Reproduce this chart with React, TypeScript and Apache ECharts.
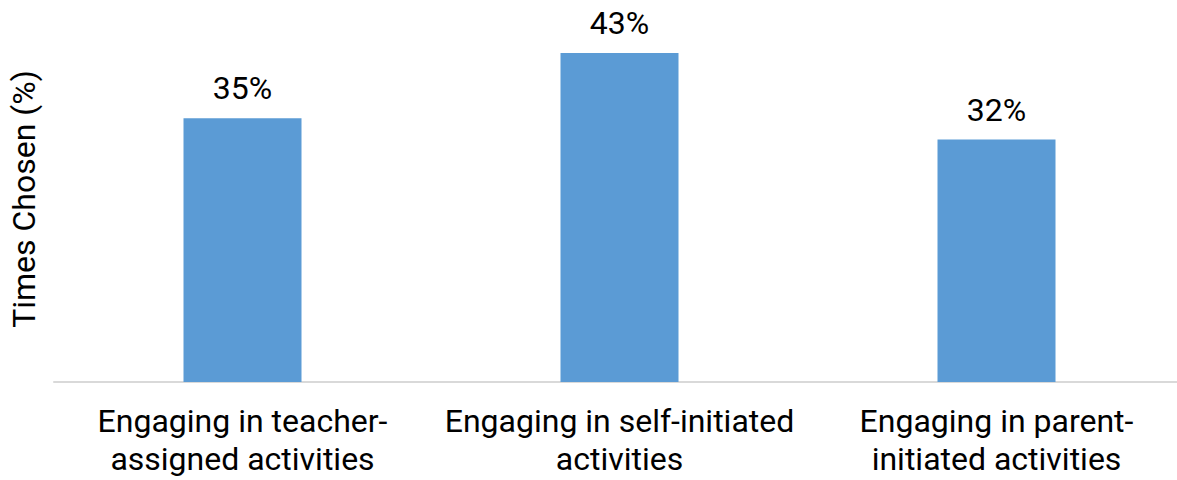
import React, { useEffect, useRef } from "react";
import * as echarts from "echarts";

const categories = [
  "Engaging in teacher-\nassigned activities",
  "Engaging in self-initiated\nactivities",
  "Engaging in parent-\ninitiated activities",
];
const timesChosen = [34.7, 43.3, 31.9];
const yAxisTitle = "Times Chosen (%)";

export default function App() {
  const ref = useRef<HTMLDivElement>(null);
  useEffect(() => {
    document.body.style.margin = "0";
    const chart = echarts.init(ref.current!, null, { renderer: "svg" });
    const font = "Roboto";
    chart.setOption({
      animation: false,
      grid: { left: 53, right: 5, top: 2, bottom: 98, containLabel: false },
      xAxis: {
        type: "category",
        data: categories,
        axisLine: { show: true, lineStyle: { color: "#d9d9d9", width: 2 } },
        axisTick: { show: false },
        axisLabel: {
          color: "#000",
          fontFamily: font,
          fontSize: 32,
          lineHeight: 38,
          margin: 20,
          interval: 0,
        },
      },
      yAxis: {
        type: "value",
        min: 0,
        max: 50,
        axisLine: { show: false },
        axisTick: { show: false },
        axisLabel: { show: false },
        splitLine: { show: false },
        name: yAxisTitle,
        nameLocation: "middle",
        nameGap: 14,
        nameTextStyle: {
          color: "#000",
          fontFamily: font,
          fontSize: 32,
          padding: [0, 14, 0, 0],
        },
      },
      series: [
        {
          type: "bar",
          data: timesChosen,
          barWidth: 118,
          itemStyle: { color: "#5B9BD5" },
          label: {
            show: true,
            position: "top",
            distance: 14,
            color: "#000",
            fontFamily: font,
            fontSize: 32,
            formatter: (p: any) => Math.round(p.value) + "%",
          },
        },
      ],
    });
    return () => chart.dispose();
  }, []);
  return (
    <div style={{ width: 1177, height: 480, overflow: "hidden", position: "relative" }}>
      <div ref={ref} style={{ width: 1190, height: 480 }} />
    </div>
  );
}
